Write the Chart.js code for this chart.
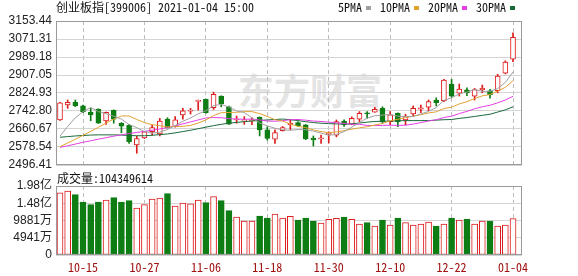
<!DOCTYPE html>
<html>
<head>
<meta charset="utf-8">
<script src="https://cdn.jsdelivr.net/npm/chart.js@4.4.1/dist/chart.umd.min.js"></script>
<style>
    html, body { margin: 0; padding: 0; background: #fff; }
    #wrap { position: relative; width: 578px; height: 276px; overflow: hidden; }
    #wrap canvas { position: absolute; left: 0; top: 0; }
    .txt { position: absolute; font-family: 'Noto Sans Mono CJK SC', 'DejaVu Sans Mono', monospace; font-size: 12px; line-height: 14px; color: #111; white-space: nowrap; }
    .key { display: inline-block; width: 5px; height: 4px; margin: 0 9px 1px 4px; vertical-align: middle; }
    #mark { position: absolute; left: 238px; top: 71px; font-family: 'Noto Sans CJK SC', sans-serif; font-weight: 700; font-size: 36px; line-height: 36px; color: #e4e4e4; }
</style>
</head>
<body>
<div id="wrap">
    <div id="mark">东方财富</div>
    <canvas id="price" width="578" height="276"></canvas>
    <canvas id="volume" width="578" height="276"></canvas>
    <div class="txt" id="title" style="left:56px;top:0px;">创业板指[399006] 2021-01-04 15:00</div>
    <div class="txt" id="legend" style="left:338px;top:0px;"></div>
    <div class="txt" id="voltitle" style="left:57px;top:171px;">成交量:104349614</div>
</div>
<script>
var dates = ['10-12', '10-13', '10-14', '10-15', '10-16', '10-19', '10-20', '10-21', '10-22', '10-23',
    '10-26', '10-27', '10-28', '10-29', '10-30', '11-02', '11-03', '11-04', '11-05', '11-06',
    '11-09', '11-10', '11-11', '11-12', '11-13', '11-16', '11-17', '11-18', '11-19', '11-20',
    '11-23', '11-24', '11-25', '11-26', '11-27', '11-30', '12-01', '12-02', '12-03', '12-04',
    '12-07', '12-08', '12-09', '12-10', '12-11', '12-14', '12-15', '12-16', '12-17', '12-18',
    '12-21', '12-22', '12-23', '12-24', '12-25', '12-28', '12-29', '12-30', '12-31', '01-04'];

var openPrices = [2702, 2770, 2782, 2766, 2737, 2750, 2697, 2746, 2687, 2677,
    2588, 2620, 2648, 2638, 2706, 2671, 2725, 2742, 2787, 2796,
    2758, 2811, 2762, 2702, 2698, 2698, 2714, 2657, 2614, 2653,
    2680, 2690, 2680, 2619, 2615, 2636, 2633, 2697, 2683, 2705,
    2735, 2738, 2755, 2694, 2732, 2702, 2729, 2751, 2760, 2793,
    2790, 2866, 2824, 2839, 2811, 2840, 2835, 2835, 2915, 2979];
var highPrices = [2782, 2793, 2793, 2770, 2755, 2753, 2738, 2748, 2690, 2682,
    2628, 2650, 2679, 2709, 2712, 2717, 2755, 2755, 2793, 2797,
    2829, 2812, 2765, 2720, 2717, 2712, 2716, 2671, 2657, 2672,
    2702, 2693, 2681, 2629, 2633, 2648, 2702, 2703, 2716, 2740,
    2740, 2759, 2762, 2740, 2735, 2728, 2766, 2770, 2793, 2803,
    2887, 2887, 2866, 2849, 2846, 2861, 2842, 2910, 2972, 3100];
var lowPrices = [2700, 2755, 2762, 2735, 2698, 2686, 2682, 2687, 2644, 2595,
    2550, 2617, 2633, 2629, 2665, 2669, 2705, 2729, 2747, 2733,
    2750, 2762, 2682, 2687, 2682, 2680, 2629, 2610, 2595, 2651,
    2657, 2672, 2612, 2583, 2595, 2597, 2625, 2672, 2680, 2694,
    2709, 2737, 2687, 2679, 2671, 2679, 2717, 2735, 2744, 2766,
    2785, 2805, 2811, 2813, 2793, 2826, 2801, 2826, 2912, 2968];
var closePrices = [2780, 2782, 2767, 2740, 2725, 2687, 2737, 2705, 2674, 2603,
    2617, 2648, 2667, 2697, 2667, 2703, 2744, 2746, 2791, 2735,
    2819, 2776, 2683, 2706, 2702, 2703, 2657, 2618, 2644, 2667,
    2687, 2675, 2615, 2611, 2620, 2641, 2694, 2680, 2709, 2732,
    2730, 2750, 2694, 2725, 2694, 2720, 2755, 2757, 2786, 2781,
    2884, 2811, 2843, 2825, 2841, 2846, 2817, 2902, 2966, 3079];

var volumes = [178400000, 183300000, 172700000, 151800000, 144100000, 151800000, 157500000, 164200000, 151800000, 155600000,
    134600000, 144100000, 160400000, 163200000, 175600000, 140300000, 148900000, 146900000, 157500000, 149900000,
    167100000, 155600000, 126900000, 108800000, 97400000, 97400000, 111700000, 106000000, 117400000, 106000000,
    110700000, 100200000, 106000000, 97400000, 91600000, 102100000, 105000000, 108800000, 102100000, 88800000,
    92600000, 83100000, 100200000, 85900000, 106000000, 92600000, 85900000, 88800000, 94500000, 83100000,
    88800000, 106000000, 100200000, 103100000, 88800000, 97400000, 97400000, 83100000, 85900000, 104349614];

var ma5 = [2628, 2672, 2712, 2740, 2759, 2740, 2731, 2719, 2706, 2681,
    2667, 2649, 2642, 2646, 2659, 2676, 2696, 2711, 2730, 2744,
    2767, 2773, 2761, 2743, 2736, 2712, 2688, 2675, 2664, 2657,
    2655, 2658, 2658, 2651, 2642, 2632, 2636, 2649, 2669, 2691,
    2710, 2721, 2724, 2727, 2719, 2717, 2718, 2729, 2741, 2759,
    2791, 2803, 2821, 2829, 2841, 2832, 2833, 2845, 2873, 2921];
var ma10 = [2580, 2597, 2614, 2632, 2650, 2668, 2688, 2706, 2720, 2720,
    2704, 2690, 2680, 2676, 2670, 2672, 2673, 2677, 2688, 2702,
    2722, 2735, 2736, 2737, 2740, 2740, 2731, 2718, 2703, 2697,
    2683, 2673, 2667, 2657, 2649, 2644, 2647, 2653, 2660, 2666,
    2671, 2679, 2686, 2698, 2705, 2713, 2719, 2726, 2734, 2739,
    2754, 2760, 2775, 2785, 2800, 2812, 2818, 2833, 2851, 2881];
var ma20 = [2577, 2584, 2592, 2600, 2607, 2614, 2621, 2628, 2634, 2640,
    2645, 2650, 2655, 2661, 2667, 2675, 2684, 2693, 2702, 2711,
    2713, 2712, 2708, 2706, 2705, 2706, 2702, 2697, 2696, 2699,
    2703, 2704, 2701, 2697, 2695, 2692, 2689, 2686, 2682, 2682,
    2677, 2676, 2677, 2678, 2677, 2678, 2683, 2690, 2697, 2703,
    2713, 2719, 2731, 2741, 2753, 2762, 2769, 2780, 2793, 2810];
var ma30 = [2623, 2626, 2629, 2631, 2633, 2634, 2634, 2634, 2633, 2631,
    2630, 2630, 2632, 2635, 2638, 2643, 2649, 2655, 2662, 2669,
    2676, 2682, 2687, 2691, 2694, 2697, 2700, 2702, 2704, 2706,
    2703, 2699, 2694, 2690, 2687, 2685, 2684, 2683, 2684, 2688,
    2692, 2695, 2696, 2697, 2698, 2699, 2699, 2699, 2699, 2701,
    2703, 2704, 2709, 2713, 2718, 2723, 2728, 2738, 2748, 2762];

var priceTicks = [2496.41, 2578.54, 2660.67, 2742.80, 2824.93, 2907.05, 2989.18, 3071.31, 3153.44];
var volumeTicks = [0, 49405000, 98810000, 148215000, 197620000];
var volumeTickLabels = ['0', '4941万', '9881万', '1.48亿', '1.98亿'];
var dateTickIndexes = [3, 11, 19, 27, 35, 43, 51, 59];
var maNames = ['5PMA', '10PMA', '20PMA', '30PMA'];
var maColors = ['#a0a0a0', '#e2a232', '#e23fe2', '#19693a'];

var RED = '#dd1c1c';
var GREEN = '#0e7d14';
var AXIS_FONT = { family: "'Liberation Sans', 'Noto Sans CJK SC', sans-serif", size: 12 };

function isUp(i) {
    return closePrices[i] >= openPrices[i];
}

function points(values) {
    return values.map(function (v, i) {
        return { x: i, y: v };
    });
}

function ranges(a, b) {
    return a.map(function (v, i) {
        return { x: i, y: [v, b[i]] };
    });
}

var framePlugin = {
    id: 'frame',
    afterDraw: function (chart) {
        var a = chart.chartArea;
        var c = chart.ctx;
        c.save();
        c.strokeStyle = '#9a9a9a';
        c.lineWidth = 1;
        c.strokeRect(Math.round(a.left) + 0.5, Math.round(a.top) + 0.5,
            Math.round(a.right - a.left) - 1, Math.round(a.bottom - a.top) - 1);
        c.restore();
    }
};

function xScale(showLabels) {
    return {
        type: 'linear',
        min: -0.52,
        max: 60.17,
        offset: false,
        afterBuildTicks: function (scale) {
            scale.ticks = dateTickIndexes.map(function (v) { return { value: v }; });
        },
        afterFit: function (scale) {
            scale.height = showLabels ? 21 : 0;
        },
        ticks: {
            display: showLabels,
            autoSkip: false,
            maxRotation: 0,
            padding: 5,
            color: '#a01010',
            font: { family: "'Noto Sans Mono CJK SC', 'DejaVu Sans Mono', monospace", size: 12 },
            callback: function (v) { return dates[v]; }
        },
        grid: { offset: false, drawTicks: false, color: '#bdbdbd' },
        border: { display: false, dash: [4, 3] }
    };
}

function yScale(ticks, format) {
    return {
        min: ticks[0],
        max: ticks[ticks.length - 1],
        afterBuildTicks: function (scale) {
            scale.ticks = ticks.map(function (v) { return { value: v }; });
        },
        afterFit: function (scale) {
            scale.width = 56;
        },
        ticks: { autoSkip: false, padding: 4, color: '#222', font: AXIS_FONT, callback: format },
        grid: { drawTicks: false, color: '#d4d4d4' },
        border: { display: false }
    };
}

function buildPriceConfig() {
    var datasets = [ma5, ma10, ma20, ma30].map(function (values, k) {
        return {
            type: 'line',
            label: maNames[k],
            data: points(values),
            borderColor: maColors[k],
            borderWidth: 1,
            pointRadius: 0,
            tension: 0,
            order: 0
        };
    });
    datasets.push({
        type: 'bar',
        label: 'body',
        data: ranges(openPrices, closePrices),
        grouped: false,
        barThickness: 5,
        borderWidth: 1,
        borderSkipped: false,
        borderColor: closePrices.map(function (v, i) { return isUp(i) ? RED : GREEN; }),
        backgroundColor: closePrices.map(function (v, i) { return isUp(i) ? '#fff' : GREEN; }),
        order: 1
    });
    datasets.push({
        type: 'bar',
        label: 'wick',
        data: ranges(lowPrices, highPrices),
        grouped: false,
        barThickness: 1,
        borderWidth: 0,
        backgroundColor: closePrices.map(function (v, i) { return isUp(i) ? RED : GREEN; }),
        order: 2
    });
    return {
        type: 'bar',
        data: { datasets: datasets },
        options: {
            responsive: false,
            animation: false,
            events: [],
            layout: { padding: { left: 0, right: 56, top: 21, bottom: 111 } },
            plugins: { legend: { display: false }, tooltip: { enabled: false } },
            scales: {
                x: xScale(false),
                y: yScale(priceTicks, function (v) { return v.toFixed(2); })
            }
        },
        plugins: [framePlugin]
    };
}

function buildVolumeConfig() {
    return {
        type: 'bar',
        data: {
            datasets: [{
                label: 'volume',
                data: points(volumes),
                grouped: false,
                barThickness: 6,
                borderWidth: 1,
                borderSkipped: false,
                borderColor: volumes.map(function (v, i) { return isUp(i) ? RED : GREEN; }),
                backgroundColor: volumes.map(function (v, i) { return isUp(i) ? '#fff' : GREEN; })
            }]
        },
        options: {
            responsive: false,
            animation: false,
            events: [],
            layout: { padding: { left: 0, right: 56, top: 186, bottom: 0 } },
            plugins: { legend: { display: false }, tooltip: { enabled: false } },
            scales: {
                x: xScale(true),
                y: yScale(volumeTicks, function (v) {
                    return volumeTickLabels[volumeTicks.indexOf(v)];
                })
            }
        },
        plugins: [framePlugin]
    };
}

function buildLegend() {
    var el = document.getElementById('legend');
    el.innerHTML = maNames.map(function (name, k) {
        return name + '<span class="key" style="background:' + maColors[k] + '"></span>';
    }).join('');
}

buildLegend();
new Chart(document.getElementById('price'), buildPriceConfig());
new Chart(document.getElementById('volume'), buildVolumeConfig());
</script>
</body>
</html>
